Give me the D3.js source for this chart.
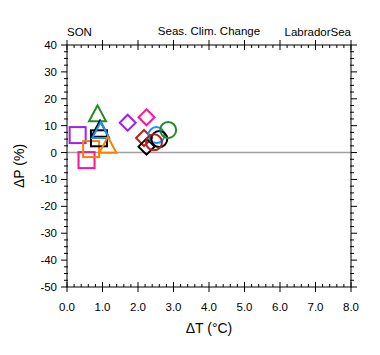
<!DOCTYPE html>
<html><head><meta charset="utf-8">
<script src="https://cdn.jsdelivr.net/npm/d3@7"></script>
<style>body{margin:0;background:#fff}svg{display:block}text{font-family:"Liberation Sans",Arial,Helvetica,sans-serif}</style>
</head><body><svg id="c" width="380" height="355"></svg>
<script>
// Data (ΔT °C, ΔP %)
const markerShapes = ["square","square","square","square","triangle","triangle","triangle","triangle","diamond","diamond","diamond","diamond","circle","circle","circle","circle"];
const markerColors = ["#a020f0","#ff1493","#ff8000","#000000","#228b22","#000000","#1e90ff","#ff8000","#a020f0","#ff1493","#b22222","#000000","#1e90ff","#000000","#b22222","#228b22"];
const dT = [0.30,0.55,0.68,0.90,0.86,0.93,0.95,1.15,1.71,2.24,2.17,2.24,2.52,2.60,2.45,2.85];
const dP = [6.5,-2.8,1.3,5.3,14.2,8.5,8.0,2.5,11.1,13.1,5.4,2.2,6.5,5.0,3.8,8.4];
const xTicks = [0,1,2,3,4,5,6,7,8];
const yTicks = [40,30,20,10,0,-10,-20,-30,-40,-50];

const svg = d3.select("#c");
const L=67,R=351,T=45,B=287;
const x = d3.scaleLinear().domain([0,8]).range([L,R]);
const y = d3.scaleLinear().domain([-50,40]).range([B,T]);

// zero line
svg.append("line").attr("x1",L).attr("x2",R).attr("y1",y(0)).attr("y2",y(0)).attr("stroke","#a0a0a0").attr("stroke-width",1.5);

// markers
const g = svg.append("g");
const S = 16;
dT.forEach((t,i)=>{
  const cx=x(t), cy=y(dP[i]), c=markerColors[i], sh=markerShapes[i];
  let el;
  if(sh==="square") el=g.append("rect").attr("x",cx-S/2).attr("y",cy-S/2).attr("width",S).attr("height",S);
  else if(sh==="circle") el=g.append("circle").attr("cx",cx).attr("cy",cy).attr("r",S/2);
  else if(sh==="diamond") el=g.append("path").attr("d",`M${cx},${cy-S/2}L${cx+S/2},${cy}L${cx},${cy+S/2}L${cx-S/2},${cy}Z`);
  else el=g.append("path").attr("d",`M${cx},${cy-9}L${cx+8.5},${cy+7}L${cx-8.5},${cy+7}Z`);
  el.attr("fill","none").attr("stroke",c).attr("stroke-width",2);
});

// frame
svg.append("rect").attr("x",L).attr("y",T).attr("width",R-L).attr("height",B-T).attr("fill","none").attr("stroke","#000").attr("stroke-width",1);

const tk = svg.append("g").attr("stroke","#000").attr("stroke-width",1);
// x ticks
d3.range(0,8.0001,0.2).forEach(v=>{
  const major = Math.abs(v-Math.round(v))<1e-6;
  const xx = x(v);
  if(major){
    tk.append("line").attr("x1",xx).attr("x2",xx).attr("y1",B-5).attr("y2",B+5);
    tk.append("line").attr("x1",xx).attr("x2",xx).attr("y1",T-5).attr("y2",T+5);
  } else {
    tk.append("line").attr("x1",xx).attr("x2",xx).attr("y1",B-3).attr("y2",B);
    tk.append("line").attr("x1",xx).attr("x2",xx).attr("y1",T).attr("y2",T+3);
  }
});
// y ticks
d3.range(-50,40.0001,2.5).forEach(v=>{
  const major = Math.abs(v/10-Math.round(v/10))<1e-6;
  const yy = y(v);
  if(major){
    tk.append("line").attr("x1",L-6).attr("x2",L).attr("y1",yy).attr("y2",yy);
    tk.append("line").attr("x1",R).attr("x2",R+6).attr("y1",yy).attr("y2",yy);
  } else {
    tk.append("line").attr("x1",L-3).attr("x2",L+1).attr("y1",yy).attr("y2",yy);
    tk.append("line").attr("x1",R-1).attr("x2",R+3).attr("y1",yy).attr("y2",yy);
  }
});

// tick labels
xTicks.forEach(v=>{
  svg.append("text").attr("x",x(v)).attr("y",311).attr("text-anchor","middle").attr("font-size",11.5).text(v.toFixed(1));
});
yTicks.forEach(v=>{
  svg.append("text").attr("x",57).attr("y",y(v)+4).attr("text-anchor","end").attr("font-size",11.5).text(v);
});

// axis titles
svg.append("text").attr("x",(L+R)/2).attr("y",333).attr("text-anchor","middle").attr("font-size",14).text("ΔT (°C)");
svg.append("text").attr("transform",`translate(24,${(T+B)/2}) rotate(-90)`).attr("text-anchor","middle").attr("font-size",14).text("ΔP (%)");

// titles
svg.append("text").attr("x",L).attr("y",36).attr("font-size",11.5).text("SON");
svg.append("text").attr("x",(L+R)/2).attr("y",35).attr("text-anchor","middle").attr("font-size",11.5).text("Seas. Clim. Change");
svg.append("text").attr("x",R).attr("y",36).attr("text-anchor","end").attr("font-size",11.5).text("LabradorSea");
</script></body></html>
